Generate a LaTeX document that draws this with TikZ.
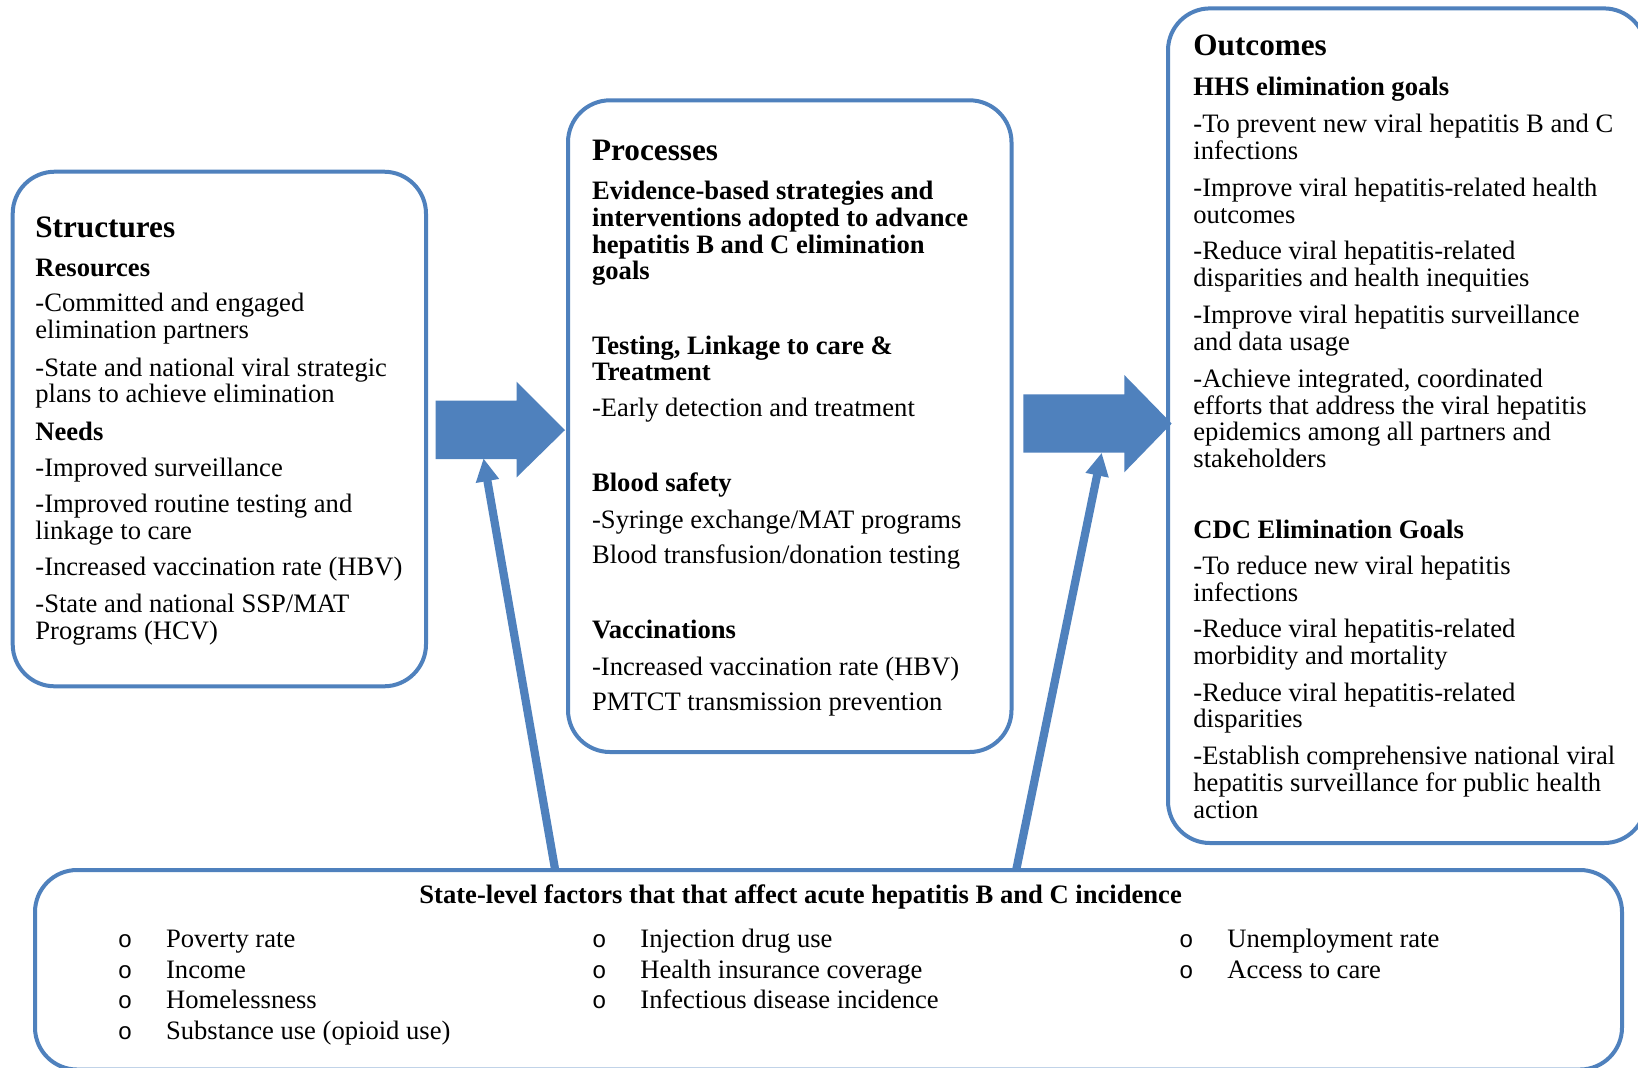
\documentclass[tikz,border=0pt]{standalone}
\usepackage{fontspec}
\setmainfont{Liberation Serif}
\setmonofont{Liberation Mono}
\usetikzlibrary{arrows.meta,fit}
\definecolor{boxblue}{RGB}{79,129,189}
\newcommand{\bodyfnt}{\fontsize{13.3}{13.3}\selectfont}
\newcommand{\hfnt}{\fontsize{15.6}{13.3}\selectfont\bfseries}
\newcommand{\bul}{\makebox[24.7pt][l]{\hspace{0.6pt}\fontsize{12}{13.3}\selectfont\ttfamily o}}
\begin{document}
\begin{tikzpicture}[x=0.5pt,y=-0.5pt,
  box/.style={draw=boxblue, line width=2pt, rounded corners=21pt, inner sep=0pt},
  txt/.style={anchor=north west, inner sep=0pt, align=left, font=\bodyfnt},
  conn/.style={draw=boxblue, line width=4.1pt, -{Triangle[width=11pt,length=11.5pt]}},
  bigarrow/.style={fill=boxblue}]
\useasboundingbox (0,0) rectangle (1638,1067);
\fill[white] (0,0) rectangle (1638,1067);
\clip (0,0) rectangle (1638,1067);

% boxes
\node[box, fit={(12.7,171.7) (426,686.3)}] (struct) {};
\node[box, fit={(568,100.3) (1011.5,752)}] (proc) {};
\node[box, fit={(1168,8.4) (1646,843)}] (outc) {};
\node[box, fit={(35,870) (1622,1069.5)}] (factors) {};

% structures text
\node[txt] (structtxt) at (35,212.7) {\rule{0pt}{12pt}{\hfnt Structures}\\[6.3pt]
{\bfseries Resources}\\[4.5pt]
-Committed and engaged\\
elimination partners\\[5.5pt]
-State and national viral strategic\\
plans to achieve elimination\\[5.5pt]
{\bfseries Needs}\\[4.65pt]
-Improved surveillance\\[4.8pt]
-Improved routine testing and\\
linkage to care\\[5pt]
-Increased vaccination rate (HBV)\\[5.3pt]
-State and national SSP/MAT\\
Programs (HCV)};

% processes text
\node[txt] (proctxt) at (591.7,136.1) {\rule{0pt}{12pt}{\hfnt Processes}\\[6.4pt]
{\bfseries Evidence-based strategies and}\\
{\bfseries interventions adopted to advance}\\
{\bfseries hepatitis B and C elimination}\\
{\bfseries goals}\\[23.85pt]
{\bfseries Testing, Linkage to care \&}\\
{\bfseries Treatment}\\[4.8pt]
-Early detection and treatment\\[24.25pt]
{\bfseries Blood safety}\\[4.8pt]
-Syringe exchange/MAT programs\\[4.45pt]
Blood transfusion/donation testing\\[24.25pt]
{\bfseries Vaccinations}\\[5pt]
-Increased vaccination rate (HBV)\\[4.45pt]
PMTCT transmission prevention};

% outcomes text
\node[txt] (outctxt) at (1193,31) {\rule{0pt}{12pt}{\hfnt Outcomes}\\[6.65pt]
{\bfseries HHS elimination goals}\\[5.3pt]
-To prevent new viral hepatitis B and C\\
infections\\[5.5pt]
-Improve viral hepatitis-related health\\
outcomes\\[5pt]
-Reduce viral hepatitis-related\\
disparities and health inequities\\[5.3pt]
-Improve viral hepatitis surveillance\\
and data usage\\[5.35pt]
-Achieve integrated, coordinated\\
efforts that address the viral hepatitis\\
epidemics among all partners and\\
stakeholders\\[22pt]
{\bfseries CDC Elimination Goals}\\[5pt]
-To reduce new viral hepatitis\\
infections\\[5pt]
-Reduce viral hepatitis-related\\
morbidity and mortality\\[5pt]
-Reduce viral hepatitis-related\\
disparities\\[5.3pt]
-Establish comprehensive national viral\\
hepatitis surveillance for public health\\
action};

% factors
\node[anchor=base west, inner sep=0pt, font=\bodyfnt\bfseries] (facttitle) at (419,903.3)
  {State-level factors that that affect acute hepatitis B and C incidence};
\node[txt] (col1) at (116.3,923.3) {\rule{0pt}{12pt}\bul Poverty rate\\[2pt]
\bul Income\\[2pt]
\bul Homelessness\\[2pt]
\bul Substance use (opioid use)};
\node[txt] (col2) at (590.6,923.3) {\rule{0pt}{12pt}\bul Injection drug use\\[2pt]
\bul Health insurance coverage\\[2pt]
\bul Infectious disease incidence};
\node[txt] (col3) at (1177.6,923.3) {\rule{0pt}{12pt}\bul Unemployment rate\\[2pt]
\bul Access to care};

% big block arrows
\fill[bigarrow] (435.7,400.7) -- (516.7,400.7) -- (516.7,381.7) -- (565,430)
  -- (516.7,477.3) -- (516.7,459) -- (435.7,459) -- cycle;
\fill[bigarrow] (1023.3,394.3) -- (1124.3,394.3) -- (1124.3,375) -- (1171.7,423.5)
  -- (1124.3,472.3) -- (1124.3,452.7) -- (1023.3,452.7) -- cycle;

% thin arrows
\coordinate (f1) at (555,869);
\coordinate (t1) at (483.5,458.3);
\coordinate (f2) at (1016.4,869);
\coordinate (t2) at (1101.7,452.7);
\draw[conn] (f1) -- (t1);
\draw[conn] (f2) -- (t2);
\end{tikzpicture}
\end{document}
